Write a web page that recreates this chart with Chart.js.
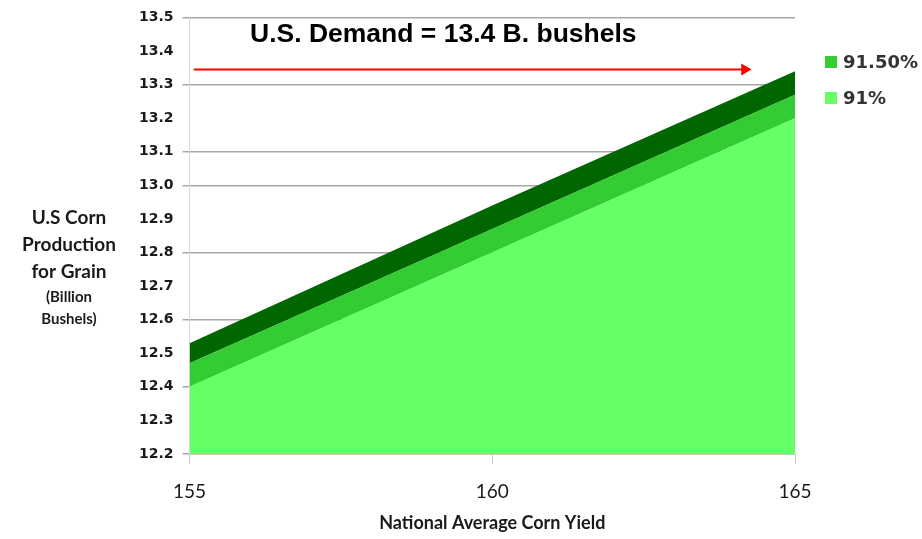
<!DOCTYPE html>
<html>
<head>
<meta charset="utf-8">
<script src="https://cdn.jsdelivr.net/npm/chart.js@4.4.1/dist/chart.umd.min.js"></script>
<style>
  html, body { margin: 0; padding: 0; background: #fff; }
  #wrap { width: 922px; height: 539px; }
</style>
</head>
<body>
<div id="wrap"><canvas id="cornChart" width="922" height="539"></canvas></div>
<script>
// yields (bu/acre) and production (billion bushels) by harvested share
const yields = [155, 160, 165];
const prod91 = [12.40, 12.80, 13.20];
const prod915 = [12.47, 12.87, 13.27];
const prod92 = [12.53, 12.94, 13.34];
const yTicks = [12.2, 12.3, 12.4, 12.5, 12.6, 12.7, 12.8, 12.9, 13.0, 13.1, 13.2, 13.3, 13.4, 13.5];
const gridAt = [12.2, 12.4, 12.6, 12.8, 13.0, 13.1, 13.3, 13.5];
const demandX = [155.07, 164.17];
const demandY = [13.345, 13.345];
const legendShown = ["91.50%", "91%"];

const pts = (vals) => yields.map((x, i) => ({ x: x, y: vals[i] }));

// axis title, header text and legend drawn onto the canvas
const extras = {
  id: "extras",
  afterDraw(chart) {
    const c = chart.ctx;
    c.save();
    c.fillStyle = "#1a1a1a";
    c.textAlign = "center";
    c.textBaseline = "middle";
    c.font = "bold 19px Lato";
    c.fillText("U.S Corn", 69, 218);
    c.fillText("Production", 69, 245);
    c.fillText("for Grain", 69, 272);
    c.font = "bold 15px Lato";
    c.fillText("(Billion", 69, 297);
    c.fillText("Bushels)", 69, 319);

    c.font = "bold 26.5px 'Liberation Sans'";
    c.textAlign = "left";
    c.fillStyle = "#000";
    c.fillText("U.S. Demand = 13.4 B. bushels", 250, 35);

    // legend, from the library's own label generator
    const items = Chart.defaults.plugins.legend.labels.generateLabels(chart)
      .filter(it => legendShown.includes(it.text))
      .sort((a, b) => legendShown.indexOf(a.text) - legendShown.indexOf(b.text));
    c.font = "bold 18px 'DejaVu Sans'";
    items.forEach((it, i) => {
      const y = 62 + i * 36;
      c.fillStyle = it.fillStyle;
      c.fillRect(825, y - 6, 12, 12);
      c.fillStyle = "#333";
      c.fillText(it.text, 843, y + 1);
    });
    c.restore();
  }
};

new Chart(document.getElementById("cornChart"), {
  type: "line",
  data: {
    datasets: [
      {
        label: "91%",
        data: pts(prod91),
        backgroundColor: "#66ff66",
        borderWidth: 0,
        pointRadius: 0,
        fill: "origin"
      },
      {
        label: "91.50%",
        data: pts(prod915),
        backgroundColor: "#33cc33",
        borderWidth: 0,
        pointRadius: 0,
        fill: "-1"
      },
      {
        label: "92%",
        data: pts(prod92),
        backgroundColor: "#006600",
        borderWidth: 0,
        pointRadius: 0,
        fill: "-1"
      },
      {
        label: "demand",
        data: demandX.map((x, i) => ({ x: x, y: demandY[i] })),
        borderColor: "#ff0000",
        backgroundColor: "#ff0000",
        borderWidth: 2,
        pointStyle: "triangle",
        rotation: 90,
        pointRadius: [0, 5],
        fill: false
      }
    ]
  },
  options: {
    responsive: false,
    animation: false,
    layout: { padding: { left: 130, top: -2, right: 127, bottom: 0 } },
    plugins: {
      tooltip: { enabled: false },
      legend: { display: false }
    },
    scales: {
      x: {
        type: "linear",
        min: 155,
        max: 165,
        afterFit: (scale) => { scale.height = 85; },
        ticks: {
          stepSize: 5,
          color: "#1a1a1a",
          padding: 16,
          font: { family: "Lato", size: 19 }
        },
        grid: { drawOnChartArea: false, tickLength: 10, color: "#c8c8c8" },
        border: { color: "#c8c8c8" },
        title: {
          display: true,
          text: "National Average Corn Yield",
          color: "#1a1a1a",
          padding: { top: 0, bottom: 5 },
          font: { family: "Lato", size: 18, weight: "bold" }
        }
      },
      y: {
        min: 12.2,
        max: 13.5,
        afterBuildTicks: (axis) => { axis.ticks = yTicks.map(v => ({ value: v })); },
        ticks: {
          color: "#1a1a1a",
          padding: 9,
          font: { family: "DejaVu Sans", size: 14, weight: "bold" },
          callback: (v) => v.toFixed(1)
        },
        grid: {
          tickLength: 7,
          color: (ctx) => gridAt.some(g => Math.abs(g - ctx.tick.value) < 1e-6) ? "#a6a6a6" : "rgba(0,0,0,0)",
          lineWidth: 1.5
        },
        border: { color: "#d9d9d9" }
      }
    }
  },
  plugins: [extras]
});
</script>
</body>
</html>
